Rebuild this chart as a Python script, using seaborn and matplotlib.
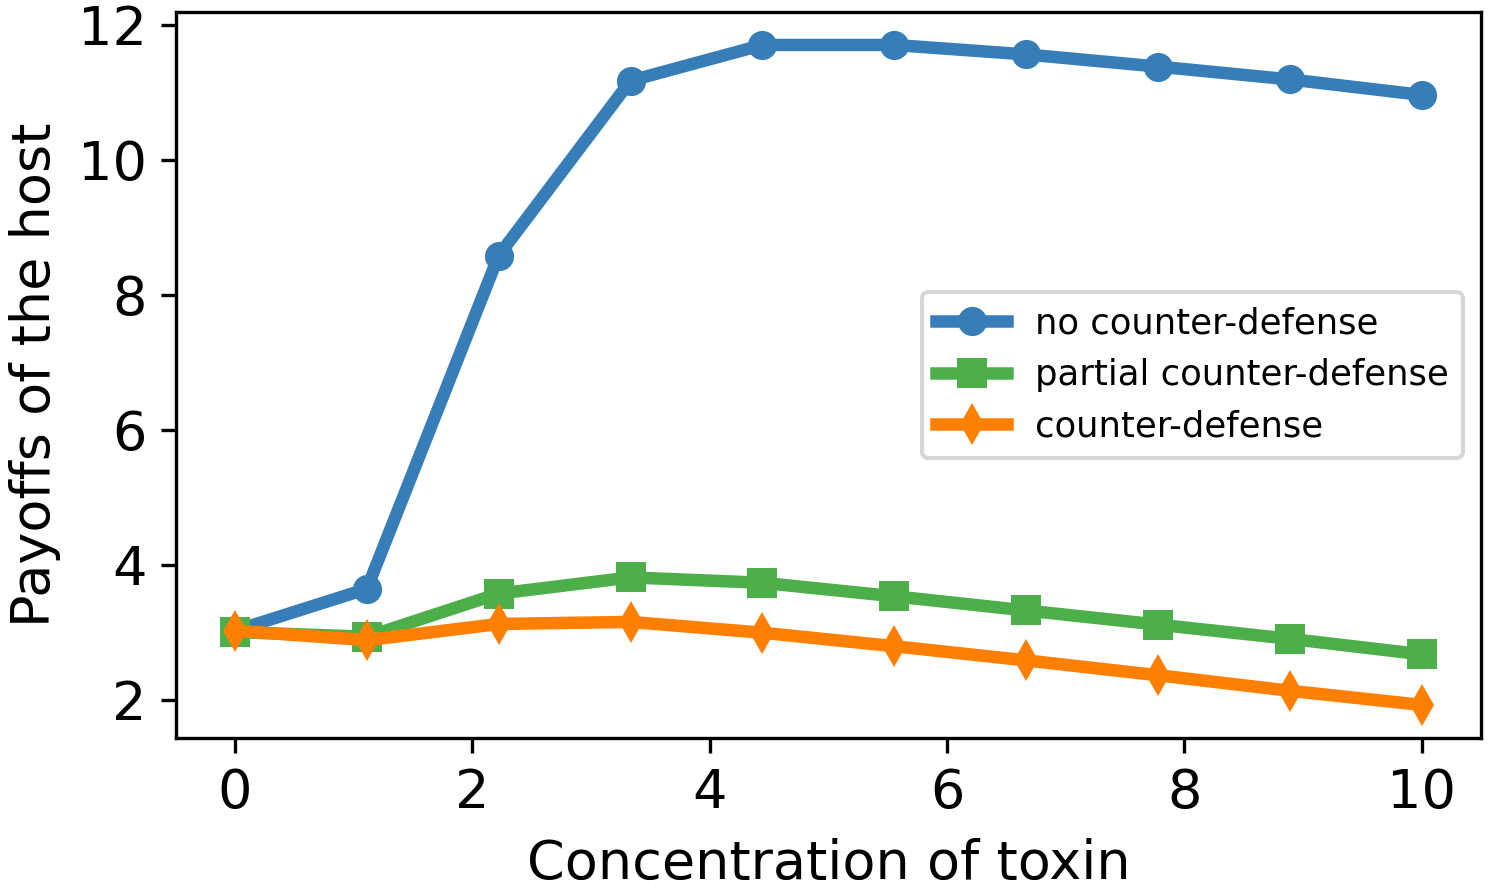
import numpy as np
import pandas as pd
import matplotlib
matplotlib.use("Agg")
import matplotlib.pyplot as plt
import seaborn as sns

# toxin concentrations (10 evenly spaced points from 0 to 10)
toxin = [0.0, 1.111, 2.222, 3.333, 4.444, 5.556, 6.667, 7.778, 8.889, 10.0]

no_cd = [3.02, 3.64, 8.58, 11.17, 11.70, 11.70, 11.56, 11.38, 11.19, 10.96]
partial_cd = [3.00, 2.93, 3.57, 3.81, 3.73, 3.53, 3.32, 3.11, 2.90, 2.67]
full_cd = [3.02, 2.88, 3.12, 3.15, 2.99, 2.79, 2.58, 2.36, 2.13, 1.92]

labels = ["no counter-defense", "partial counter-defense", "counter-defense"]
colors = ["#377eb8", "#4daf4a", "#ff7f00"]
markers = ["o", "s", "d"]

df = pd.DataFrame({
    "toxin": toxin * 3,
    "payoff": no_cd + partial_cd + full_cd,
    "strategy": [labels[0]] * 10 + [labels[1]] * 10 + [labels[2]] * 10,
})

sns.set_theme(style="ticks")
plt.rcParams["font.family"] = ["DejaVu Sans"]
plt.rcParams["text.color"] = "black"
plt.rcParams["axes.labelcolor"] = "black"
plt.rcParams["lines.solid_capstyle"] = "projecting"

fig = plt.figure(figsize=(1489 / 300, 888 / 300), dpi=300)
ax = fig.add_axes([0.118, 0.169, 0.8766, 0.8175])

for lab, col, mk in zip(labels, colors, markers):
    sub = df[df["strategy"] == lab]
    sns.lineplot(data=sub, x="toxin", y="payoff", ax=ax, color=col,
                 marker=mk, markersize=7, markeredgewidth=0,
                 linewidth=3, label=lab)

ax.set_xlabel("Concentration of toxin", fontsize=13, labelpad=4.5)
ax.set_ylabel("Payoffs of the host", fontsize=13, labelpad=4)
ax.set_xticks([0, 2, 4, 6, 8, 10])
ax.set_yticks([2, 4, 6, 8, 10, 12])
ax.tick_params(labelsize=13, length=3.5, width=0.8, colors="black")
for sp in ax.spines.values():
    sp.set_linewidth(0.8)
    sp.set_color("black")

ax.legend(loc="center right", fontsize=8.5, frameon=True)

fig.savefig("out.png", dpi=300)
